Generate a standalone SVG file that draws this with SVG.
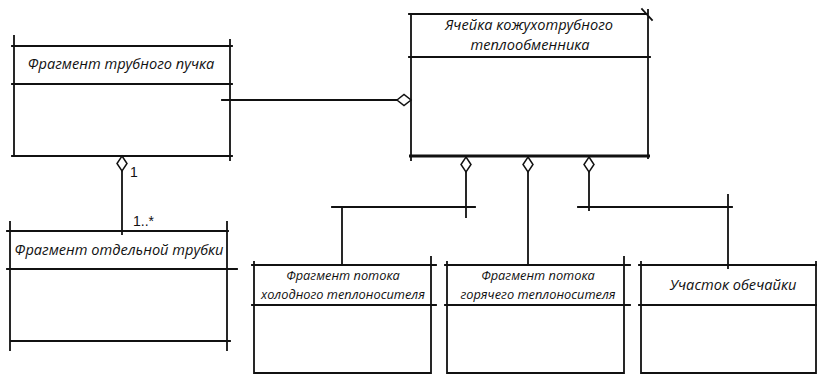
<svg xmlns="http://www.w3.org/2000/svg" width="817" height="374" viewBox="0 0 817 374">
<defs>
<style>
.ln{stroke:#111;stroke-width:1.8;fill:none;stroke-linecap:square}
.thk{stroke:#111;stroke-width:3;fill:none}
.dm{stroke:#111;stroke-width:1.5;fill:#fff}
.t{font-family:"Open Sans","Liberation Sans",sans-serif;font-style:italic;fill:#111;text-anchor:middle}
.h{font-size:14.6px}
.s{font-size:12.8px}
.m{font-family:"Liberation Sans",sans-serif;font-size:14px;fill:#111}
</style>
</defs>
<rect width="817" height="374" fill="#fff"/>
<g id="n-bundle">
<path class="ln" d="M12 46H232M12 84H232M12 156H232M14 36V156M230 40V160"/>
<text class="t h" x="121" y="69">Фрагмент трубного пучка</text>
</g>
<g id="n-cell">
<path class="ln" d="M409 14H648M409 57H650M411 14V160M648 10V158M642 9L652 20"/>
<path class="thk" d="M409 156H650"/>
<text class="t h" x="529" y="30">Ячейка кожухотрубного</text>
<text class="t h" x="530" y="50">теплообменника</text>
</g>
<g id="n-tube">
<path class="ln" d="M7 231H228M7 269H237M10 341H230M10 222V350M227 222V350"/>
<text class="t h" x="119" y="255">Фрагмент отдельной трубки</text>
</g>
<g id="n-cold">
<path class="ln" d="M252 265H436M252 305H436M254 373H431M254 262V374M431 257V374"/>
<text class="t s" x="343" y="280">Фрагмент потока</text>
<text class="t s" x="343" y="299">холодного теплоносителя</text>
</g>
<g id="n-hot">
<path class="ln" d="M445 265H630M445 305H630M447 373H624M447 262V374M624 257V374"/>
<text class="t s" x="538" y="280">Фрагмент потока</text>
<text class="t s" x="538" y="299">горячего теплоносителя</text>
</g>
<g id="n-shell">
<path class="ln" d="M639 265H817M639 305H817M641 373H816M641 262V374M816 262V374"/>
<text class="t h" x="733" y="290">Участок обечайки</text>
</g>
<g id="connectors">
<path class="ln" d="M222 100H397"/>
<polygon class="dm" points="397,100 404,94.5 411,100 404,105.5"/>
<path class="ln" d="M122 171V234"/>
<polygon class="dm" points="122,156 127,163.5 122,171 117,163.5"/>
<text class="m" x="130" y="177">1</text>
<text class="m" x="133" y="226">1..*</text>
<path class="ln" d="M466 172V217M332 207H475M342 207V265"/>
<polygon class="dm" points="466,157 471,164.5 466,172 461,164.5"/>
<path class="ln" d="M528 172V265"/>
<polygon class="dm" points="528,157 533,164.5 528,172 523,164.5"/>
<path class="ln" d="M589 172V210M578 207H732M728 195V268"/>
<polygon class="dm" points="589,157 594,164.5 589,172 584,164.5"/>
</g>
</svg>
